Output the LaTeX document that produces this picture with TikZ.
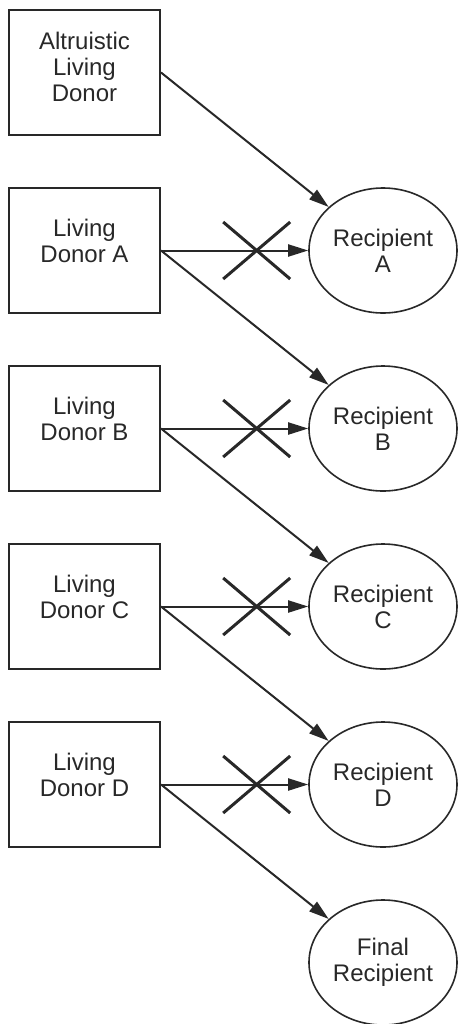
\documentclass[tikz,border=0pt]{standalone}
\usepackage{fontspec}
\setmainfont{Liberation Sans}
\usetikzlibrary{arrows.meta, shapes.geometric, shapes.misc, positioning}

\definecolor{inkgrey}{RGB}{40,40,40}

\begin{document}
\begin{tikzpicture}
[
	x					= 0.5pt,
	y					= -0.5pt, % so that y grows downwards
	font				= \fontsize{12pt}{13pt}\selectfont,
	donor/.style		=
	{
		draw			= inkgrey,
		line width		= 1pt,
		minimum width	= 75.5pt,
		minimum height	= 62.5pt,
		inner sep		= 0pt,
	},
	donor text/.style	= {align = center, text = inkgrey},
	recipient/.style	=
	{
		ellipse,
		draw			= inkgrey,
		line width		= 0.8pt,
		minimum width	= 74pt,
		minimum height	= 62.5pt,
		inner sep		= 0pt,
		align			= center,
		text			= inkgrey,
	},
	gift/.style			=
	{
		-{Triangle[length = 10pt, width = 6pt]},
		draw			= inkgrey,
		line width		= 1pt,
	},
	blocked/.style		=
	{
		cross out,
		draw			= inkgrey,
		line width		= 1.5pt,
		minimum width	= 32pt,
		minimum height	= 27pt,
		inner sep		= 0pt,
	},
]

\useasboundingbox (0,0) rectangle (457,1024);

% the donor who starts the chain
\node [donor, label = {[donor text, yshift = 3pt]center:Altruistic\\Living\\Donor}] (altruist) at (84.5, 72.5) {};

% one row per pair: donor box on the left, recipient on the right
\foreach \who [count = \i] in {A, B, C, D}
{
	\node [donor, label = {[donor text, yshift = 5pt]center:Living\\Donor \who}] (donor\who) at (84.5, 72.5 + 178*\i) {};
	\node [recipient] (recip\who) at (383, 72.5 + 178*\i) {Recipient\\\who};
}
\node [recipient] (recipFinal) at (383, 962.5) {Final\\Recipient};

\draw [gift] (altruist.east) -- (recipA);

\foreach \who/\onward in {A/B, B/C, C/D, D/Final}
{
	\draw [gift] (donor\who.east) -- node [blocked, pos = 0.65] {} (recip\who); % incompatible pair
	\draw [gift] (donor\who.east) -- (recip\onward);
}

\end{tikzpicture}
\end{document}
